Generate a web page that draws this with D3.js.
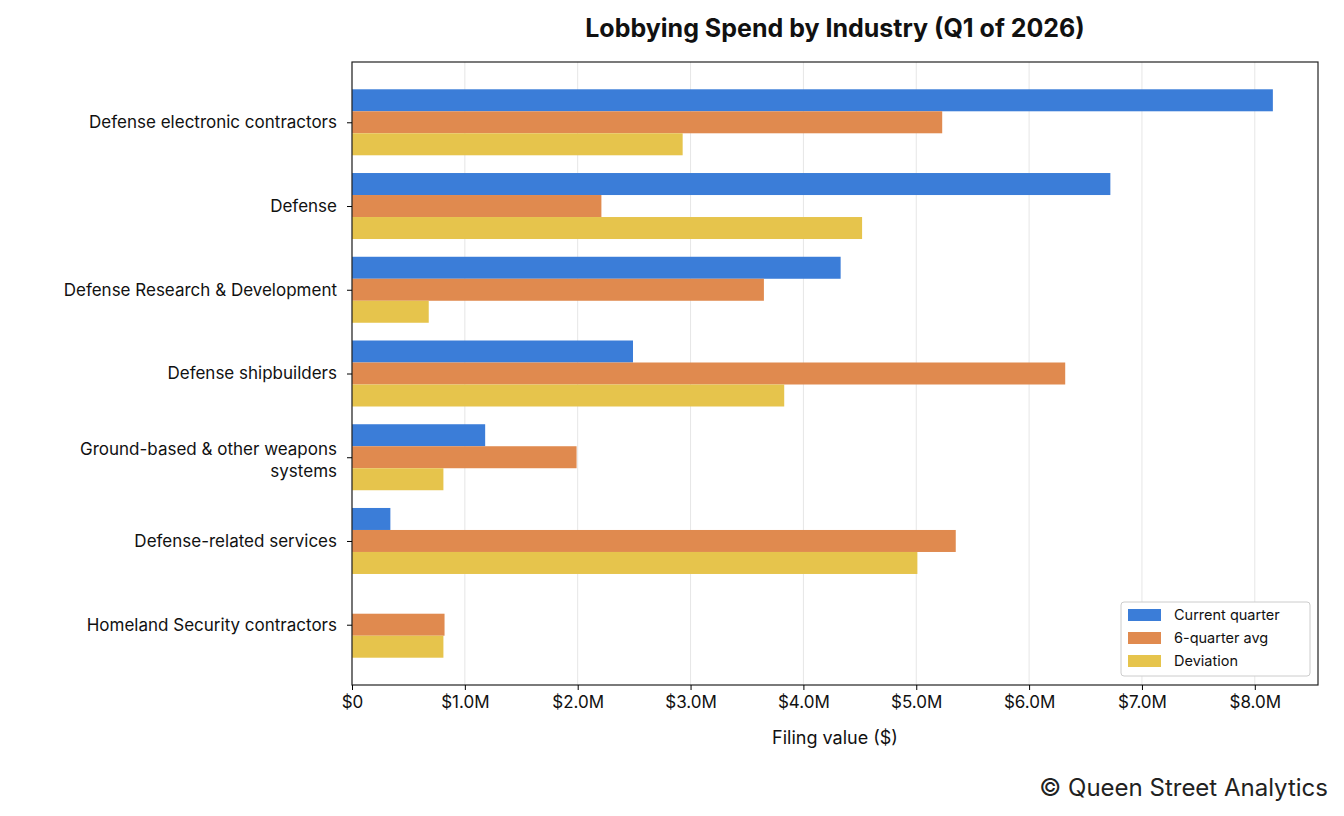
<!DOCTYPE html>
<html><head><meta charset="utf-8">
<script src="https://cdn.jsdelivr.net/npm/d3@7/dist/d3.min.js"></script>
<style>body{margin:0;background:#fff}text{font-family:Inter,"DejaVu Sans",sans-serif}</style>
</head><body><svg id="c" width="1344" height="816"></svg>
<script>
const categories=["Defense electronic contractors","Defense","Defense Research & Development","Defense shipbuilders","Ground-based & other weapons systems","Defense-related services","Homeland Security contractors"];
const current=[8.16,6.72,4.33,2.49,1.18,0.34,0];
const avg6=[5.23,2.21,3.65,6.32,1.99,5.35,0.82];
const deviation=[2.93,4.52,0.68,3.83,0.81,5.01,0.81];
const series=[{name:"Current quarter",vals:current,color:"#3b7dd8"},{name:"6-quarter avg",vals:avg6,color:"#e08a4f"},{name:"Deviation",vals:deviation,color:"#e6c44c"}];
const tickVals=[0,1,2,3,4,5,6,7,8];
const tickLabels=["$0","$1.0M","$2.0M","$3.0M","$4.0M","$5.0M","$6.0M","$7.0M","$8.0M"];
const L=352,R=1318,T=62,B=685;
const svg=d3.select("#c");
const x=d3.scaleLinear().domain([0,8.56]).range([L,R]);
const y=d3.scalePoint().domain(categories).range([T,B]).padding(0.72);
const bh=22;
svg.append("g").selectAll("line").data(tickVals).join("line").attr("x1",d=>x(d)).attr("x2",d=>x(d)).attr("y1",T).attr("y2",B).attr("stroke","#e6e6e6").attr("stroke-width",1);
series.forEach((s,i)=>{
 svg.append("g").selectAll("rect").data(s.vals).join("rect").attr("x",x(0)).attr("width",d=>x(d)-x(0))
 .attr("y",(d,j)=>y(categories[j])-1.5*bh+i*bh).attr("height",bh).attr("fill",s.color);
});
svg.append("rect").attr("x",L).attr("y",T).attr("width",R-L).attr("height",B-T).attr("fill","none").attr("stroke","#222").attr("stroke-width",1.2);
const xa=svg.append("g").attr("transform",`translate(0,${B})`).call(d3.axisBottom(x).tickValues(tickVals).tickFormat((d,i)=>tickLabels[i]).tickSize(5));
xa.select(".domain").remove();
xa.selectAll("text").attr("font-size",17).attr("fill","#111").attr("font-family","Inter,sans-serif").attr("dy","0.9em");
const ya=svg.append("g").attr("transform",`translate(${L},0)`).call(d3.axisLeft(y).tickSize(5));
ya.select(".domain").remove();
ya.selectAll("text").attr("font-size",17).attr("fill","#111").attr("font-family","Inter,sans-serif").each(function(d){
 if(d==="Ground-based & other weapons systems"){const t=d3.select(this).text(null).attr("dy",null);
 t.append("tspan").attr("x",-15).attr("y",-3).text("Ground-based & other weapons");
 t.append("tspan").attr("x",-15).attr("y",19).text("systems");}
}).attr("x",-15);
svg.append("text").attr("x",835).attr("y",37).attr("text-anchor","middle").attr("font-size",25).attr("font-weight","bold").attr("fill","#111").text("Lobbying Spend by Industry (Q1 of 2026)");
svg.append("text").attr("x",835).attr("y",744).attr("text-anchor","middle").attr("font-size",18).attr("fill","#111").text("Filing value ($)");
svg.append("text").attr("x",1328).attr("y",796).attr("text-anchor","end").attr("font-size",24).attr("fill","#222").text("© Queen Street Analytics");
const lg=svg.append("g");
lg.append("rect").attr("x",1121).attr("y",602).attr("width",189).attr("height",74).attr("fill","#fff").attr("stroke","#ccc").attr("rx",3);
series.forEach((s,i)=>{
 lg.append("rect").attr("x",1128).attr("y",609+i*23).attr("width",33).attr("height",12).attr("fill",s.color);
 lg.append("text").attr("x",1174).attr("y",620+i*23).attr("font-size",14.5).attr("fill","#111").text(s.name);
});
</script></body></html>
